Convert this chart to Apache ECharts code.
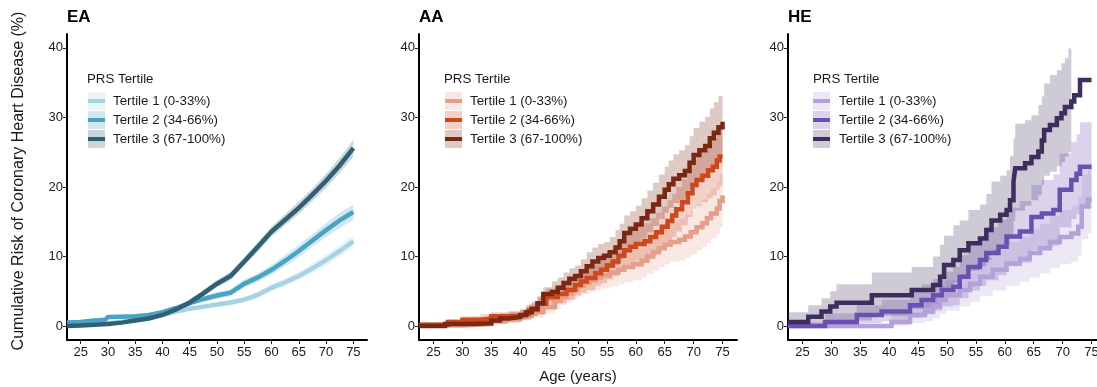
<!DOCTYPE html>
<html>
<head>
<meta charset="utf-8">
<script src="https://cdn.jsdelivr.net/npm/echarts@6/dist/echarts.min.js"></script>
<style>html,body{margin:0;padding:0;background:#fff}#c{width:1097px;height:387px}</style>
</head>
<body>
<div id="c"></div>
<script>
// ---------- DATA ----------
const panelTitles = ['EA', 'AA', 'HE'];
const tertileLabels = ['Tertile 1 (0-33%)', 'Tertile 2 (34-66%)', 'Tertile 3 (67-100%)'];
const xTicks = [25, 30, 35, 40, 45, 50, 55, 60, 65, 70, 75];
const yTicks = [0, 10, 20, 30, 40];
const yTitle = 'Cumulative Risk of Coronary Heart Disease (%)';
const xTitle = 'Age (years)';

// rows: [age, estimate, lower CI, upper CI]
const EA_T1 = [[22.5,0.3,0.1,0.5],[25,0.3,0.1,0.5],[27.5,0.35,0.15,0.55],[30,0.4,0.2,0.6],[32.5,0.6,0.4,0.8],[35,0.9,0.7,1.1],[37.5,1.2,1.0,1.4],[40,1.6,1.4,1.8],[42.5,2.1,1.8,2.4],[45,2.5,2.2,2.8],[47.5,2.8,2.5,3.1],[50,3.1,2.7,3.5],[52.5,3.4,3.0,3.8],[55,3.8,3.4,4.2],[57.5,4.5,4.0,5.0],[60,5.5,5.0,6.0],[62.5,6.3,5.7,6.9],[65,7.2,6.6,7.8],[67.5,8.3,7.6,9.0],[70,9.5,8.7,10.3],[72.5,10.8,9.9,11.7],[75,12.2,11.3,13.1]];
const EA_T2 = [[22.5,0.5,0.2,0.8],[25,0.6,0.3,0.9],[27.5,0.8,0.5,1.1],[29.5,0.9,0.6,1.2],[30,1.3,1.0,1.6],[32.5,1.35,1.05,1.65],[35,1.4,1.1,1.7],[37.5,1.6,1.3,1.9],[40,2.0,1.7,2.3],[42.5,2.6,2.3,2.9],[45,3.3,2.9,3.7],[47.5,3.9,3.5,4.3],[50,4.4,3.9,4.9],[52.5,4.8,4.3,5.3],[55,6.1,5.5,6.7],[57.5,7.0,6.4,7.6],[60,8.1,7.4,8.8],[62.5,9.4,8.6,10.2],[65,10.8,9.9,11.7],[67.5,12.3,11.4,13.2],[70,13.8,12.8,14.8],[72.5,15.2,14.1,16.3],[75,16.4,15.3,17.5]];
const EA_T3 = [[22.5,0.0,0.0,0.3],[25,0.1,0.0,0.4],[27.5,0.2,0.0,0.5],[30,0.3,0.1,0.6],[32.5,0.5,0.3,0.8],[35,0.8,0.6,1.1],[37.5,1.1,0.9,1.4],[40,1.6,1.4,1.9],[42.5,2.4,2.1,2.7],[45,3.4,3.0,3.8],[47.5,4.7,4.3,5.2],[50,6.1,5.6,6.6],[52.5,7.2,6.6,7.8],[55,9.3,8.7,9.9],[57.5,11.4,10.7,12.1],[60,13.6,12.9,14.3],[62.5,15.3,14.5,16.1],[65,17.0,16.1,17.9],[67.5,18.9,18.0,19.8],[70,20.9,19.9,21.9],[72.5,23.1,22.0,24.2],[75,25.6,24.4,26.8]];

const AA_T1 = [[22.5,0.1,0,0.4],[30,0.3,0,0.7],[35,0.7,0.2,1.2],[37.5,1.0,0.4,1.6],[40,1.5,0.8,2.2],[42,2.0,1.2,2.8],[44,2.7,1.8,3.6],[46,3.6,2.5,4.7],[47,4.2,3.0,5.4],[48,4.7,3.4,6.0],[49,5.3,3.9,6.7],[50,5.8,4.3,7.3],[51,6.2,4.6,7.8],[52,6.6,4.9,8.3],[53,7.0,5.2,8.8],[54,7.3,5.4,9.2],[55.5,7.7,5.7,9.7],[57,8.1,6.0,10.2],[58,8.5,6.3,10.7],[59.5,8.9,6.6,11.2],[61,9.4,7.0,11.8],[62,10.0,7.5,12.5],[63,10.6,8.0,13.2],[64,11.2,8.5,13.9],[65,11.7,8.9,14.5],[66,12.1,9.2,15.0],[67.5,12.4,9.4,15.4],[68.5,12.9,9.8,16.0],[69.5,13.5,10.3,16.7],[70.5,14.2,10.9,17.5],[71.5,14.8,11.4,18.2],[72.3,15.5,12.0,19.0],[73,16.2,12.6,19.8],[74,16.9,13.2,20.6],[74.5,18.0,14.2,21.8],[75,18.8,14.9,22.7]];
const AA_T2 = [[22.5,0.2,0,0.6],[27.5,0.6,0.2,1.0],[30,0.9,0.4,1.4],[33,1.1,0.5,1.7],[35,1.4,0.8,2.0],[38,1.5,0.8,2.2],[40,1.7,1.0,2.5],[41.5,2.3,1.4,3.2],[43,3.2,2.2,4.2],[44.5,4.2,3.0,5.4],[46.5,4.6,3.3,5.9],[48,5.2,3.8,6.6],[49.5,5.9,4.4,7.4],[50.5,6.4,4.8,8.0],[51.5,6.9,5.2,8.6],[53,7.6,5.8,9.4],[54,8.1,6.2,10.0],[55,8.7,6.7,10.7],[56,9.3,7.2,11.4],[57,10.1,7.9,12.3],[58,10.9,8.6,13.2],[59,11.4,9.0,13.8],[60,11.8,9.3,14.3],[61.5,12.2,9.6,14.8],[62.5,12.8,10.1,15.5],[63.5,13.5,10.7,16.3],[64.5,14.3,11.4,17.2],[65.5,15.1,12.1,18.1],[66.3,15.9,12.8,19.0],[67,16.8,13.6,20.0],[68,17.8,14.5,21.1],[69,19.1,15.7,22.5],[69.8,20.3,16.8,23.8],[70.5,21.0,17.3,24.7],[71.5,21.6,17.8,25.4],[72.5,22.4,18.4,26.4],[73.3,22.9,18.8,27.0],[74,23.8,19.6,28.0],[74.5,24.4,20.1,28.7],[75,24.4,20.1,28.7]];
const AA_T3 = [[22.5,0,0,0.4],[27,0.3,0,0.7],[31,0.4,0,0.8],[35,0.8,0.4,1.2],[36.5,1.1,0.4,1.8],[38,1.3,0.6,2.0],[40,1.6,0.9,2.3],[41,2.0,1.0,3.0],[42,2.5,1.5,3.5],[43,3.3,2.3,4.3],[44,4.6,3.6,5.6],[45.5,4.9,3.4,6.4],[46.5,5.5,4.0,7.0],[47.5,6.2,4.7,7.7],[48.5,6.8,5.3,8.3],[49.5,7.2,5.7,8.7],[50.5,7.9,6.2,9.6],[51.5,8.6,6.6,10.6],[52.5,9.3,7.3,11.3],[53.5,9.8,7.8,11.8],[54.5,10.1,8.1,12.1],[55.5,10.6,8.4,12.8],[56.5,11.3,8.8,13.8],[57.2,12.2,9.7,14.7],[58,13.4,10.9,15.9],[59,14.0,11.5,16.5],[60,14.6,11.9,17.3],[61,15.5,12.6,18.4],[62,16.5,13.5,19.5],[63,17.5,14.4,20.6],[64,18.6,15.4,21.8],[65,19.6,16.3,22.9],[65.7,20.4,17.0,23.8],[66.5,21.2,17.7,24.7],[67.5,21.7,18.1,25.3],[68.5,22.3,18.6,26.0],[69.3,23.5,19.7,27.3],[70,24.6,20.7,28.5],[71,25.3,21.2,29.4],[72,25.9,21.7,30.1],[72.8,27.0,22.7,31.3],[73.5,27.8,23.4,32.2],[74.3,28.6,24.1,33.1],[75,29.4,24.9,33.9]];

const HE_T1 = [[22.5,0,0,0],[40.4,0.6,0,1.8],[43.6,1.6,0.4,3.0],[46.2,2.1,0.7,3.7],[47.6,2.8,1.1,4.6],[48.8,3.75,1.7,5.8],[49.8,4.45,2.2,6.6],[52.2,5.2,2.8,7.5],[54.0,6.1,3.5,8.6],[55.7,7.1,4.3,9.8],[57.9,8.1,5.1,11.0],[60.3,9.0,5.8,12.1],[62.6,9.7,6.4,12.9],[64.3,10.5,7.0,13.9],[66.1,11.2,7.6,14.7],[67.8,12.1,8.3,15.8],[69.5,12.8,8.9,16.7],[71.5,13.3,9.3,17.3],[72.7,14.3,10.1,18.6],[73.3,17.2,12.5,21.8],[74.4,18.2,13.4,23.0],[75,18.2,13.4,23.0]];
const HE_T2 = [[22.5,0,0,0.5],[28.9,0.6,0,1.8],[34.4,1.6,0.4,3.0],[38.7,2.1,0.7,3.8],[43.6,3.0,1.2,5.0],[45.6,3.75,1.7,6.0],[47.6,4.45,2.2,6.8],[49.1,5.2,2.8,7.8],[51.1,5.65,3.0,8.5],[52.2,7.1,4.0,10.2],[53.7,8.5,5.1,11.8],[55.7,9.5,5.8,13.0],[56.8,10.5,6.6,14.2],[58.9,11.4,7.3,15.3],[60.3,12.9,8.6,17.0],[62.6,13.6,9.1,18.0],[64.6,15.7,10.9,20.3],[66.4,16.2,11.3,21.0],[68.4,16.7,11.6,21.8],[69.5,19.6,14.2,24.8],[71.5,21.0,15.4,26.5],[72.4,21.9,16.1,27.6],[73.0,22.9,16.9,29.3],[75,22.9,16.9,29.3]];
const HE_T3 = [[22.5,0.6,0,2.0],[26,1.35,0,3.0],[28.3,2.1,0.3,4.0],[29.8,2.8,0.5,5.0],[30.9,3.35,0.8,6.0],[37,4.45,1.5,7.7],[43.9,5.2,2.5,8.5],[47.6,5.9,3.0,10.0],[48.8,7.1,4.0,11.7],[49.5,8.8,5.5,13.0],[51.1,9.5,6.2,14.5],[52.2,10.9,7.2,15.2],[53.7,11.9,8.0,16.7],[55.7,12.6,8.6,17.5],[56.8,13.8,9.5,19.0],[57.7,15.2,10.6,20.8],[59.2,16.0,11.3,21.6],[60.3,16.7,11.8,22.4],[60.9,18.1,12.9,24.5],[61.5,20.8,15.1,27.0],[61.8,22.7,16.6,29.1],[63.5,23.4,17.3,29.6],[64.6,24.3,18.1,30.3],[65.8,25.1,18.8,31.8],[66.4,26.7,20.3,33.0],[66.8,28.2,21.6,34.9],[67.8,28.9,22.2,36.1],[69.0,29.9,23.0,36.8],[69.8,30.6,23.6,37.8],[70.4,31.5,24.4,38.5],[71.0,31.5,25.0,39.9],[71.5,32.3,null,null],[72,33.2,null,null],[73.0,35.4,null,null],[75,35.4,null,null]];

const EA_colors = ['#a5d3e2', '#4aa3c4', '#2f6074'];
const AA_colors = ['#e59e8a', '#cd481f', '#7a2812'];
const HE_colors = ['#b3a1d9', '#6a50b0', '#3d2e5e'];

// ---------- LAYOUT / STYLE ----------
const FONT = '"Liberation Sans", Arial, Helvetica, sans-serif';
const CI_ALPHA = 0.25;
const grids = [
  {left: 67, top: 34, width: 300, height: 306},
  {left: 419, top: 34, width: 318, height: 306},
  {left: 788, top: 34, width: 318, height: 306}
];
const legendPos = [
  {title: 87, key: 88, text: 113},
  {title: 444, key: 445, text: 470},
  {title: 813, key: 813, text: 839}
];

function rgba(hex, a) {
  const n = parseInt(hex.slice(1), 16);
  return 'rgba(' + ((n >> 16) & 255) + ',' + ((n >> 8) & 255) + ',' + (n & 255) + ',' + a + ')';
}

function bandSeries(rows, color, step, gi) {
  return {
    type: 'custom', xAxisIndex: gi, yAxisIndex: gi, z: 1, silent: true,
    data: rows.map(r => [r[0], r[2], r[3]]),
    encode: {x: 0, y: [1, 2]},
    renderItem: function (params, api) {
      if (params.dataIndex !== 0) return null;
      const up = [], lo = [];
      for (let i = 0; i < rows.length; i++) {
        const r = rows[i];
        if (r[2] == null) break;
        const nx = rows[i + 1];
        up.push(api.coord([r[0], r[3]]));
        lo.push(api.coord([r[0], r[2]]));
        if (step && nx) {
          up.push(api.coord([nx[0], r[3]]));
          lo.push(api.coord([nx[0], r[2]]));
        }
      }
      return {type: 'polygon', shape: {points: up.concat(lo.reverse())}, style: {fill: rgba(color, CI_ALPHA)}};
    }
  };
}
function lineSeries(rows, color, step, gi) {
  return {
    type: 'line', xAxisIndex: gi, yAxisIndex: gi, z: 3, silent: true,
    step: step ? 'end' : false, showSymbol: false, symbol: 'none', symbolSize: 0,
    data: rows.map(r => [r[0], r[1]]),
    lineStyle: {color: color, width: 4.5, cap: 'butt', join: 'miter'}, itemStyle: {color: color}
  };
}

const groups = [
  {rows: [EA_T1, EA_T2, EA_T3], colors: EA_colors, step: false},
  {rows: [AA_T1, AA_T2, AA_T3], colors: AA_colors, step: true},
  {rows: [HE_T1, HE_T2, HE_T3], colors: HE_colors, step: true}
];

const series = [];
groups.forEach((g, gi) => {
  g.rows.forEach((r, k) => series.push(bandSeries(r, g.colors[k], g.step, gi)));
  g.rows.forEach((r, k) => series.push(lineSeries(r, g.colors[k], g.step, gi)));
});

const axisText = {color: '#1a1a1a', fontSize: 13, fontFamily: FONT};
const xAxes = grids.map((g, i) => ({
  type: 'value', gridIndex: i, min: 22.5, max: 77.5,
  axisLine: {show: true, onZero: false, lineStyle: {color: '#000', width: 2}},
  axisTick: {show: true, length: 4, customValues: xTicks, lineStyle: {color: '#222', width: 1}},
  axisLabel: Object.assign({customValues: xTicks, margin: 6}, axisText),
  splitLine: {show: false},
  name: i === 1 ? xTitle : '', nameLocation: 'middle', nameGap: 29,
  nameTextStyle: {fontSize: 15, color: '#1a1a1a', fontFamily: FONT}
}));
const yAxes = grids.map((g, i) => ({
  type: 'value', gridIndex: i, min: -2, max: 42,
  axisLine: {show: true, onZero: false, lineStyle: {color: '#000', width: 2}},
  axisTick: {show: true, length: 4, customValues: yTicks, lineStyle: {color: '#222', width: 1}},
  axisLabel: Object.assign({customValues: yTicks, margin: 4}, axisText),
  splitLine: {show: false}
}));

const graphic = [{
  type: 'text', x: 19, y: 181, rotation: Math.PI / 2, silent: true,
  style: {text: yTitle, fill: '#1a1a1a', font: '16px ' + FONT, align: 'center', verticalAlign: 'middle'}
}];
groups.forEach((g, gi) => {
  const p = legendPos[gi];
  graphic.push({type: 'text', x: p.title, y: 79, silent: true,
    style: {text: 'PRS Tertile', fill: '#1a1a1a', font: '13.3px ' + FONT, verticalAlign: 'middle', align: 'left'}});
  for (let k = 0; k < 3; k++) {
    const cy = 101 + k * 19;
    graphic.push({type: 'rect', silent: true, shape: {x: p.key, y: cy - 9, width: 17, height: 18}, style: {fill: rgba(g.colors[k], CI_ALPHA)}});
    graphic.push({type: 'rect', silent: true, shape: {x: p.key, y: cy - 2, width: 17, height: 4}, style: {fill: g.colors[k]}});
    graphic.push({type: 'text', x: p.text, y: cy, silent: true,
      style: {text: tertileLabels[k], fill: '#1a1a1a', font: '13.3px ' + FONT, verticalAlign: 'middle', align: 'left'}});
  }
});

const chart = echarts.init(document.getElementById('c'), null, {renderer: 'canvas'});
chart.setOption({
  animation: false,
  backgroundColor: '#fff',
  textStyle: {fontFamily: FONT},
  title: panelTitles.map((t, i) => ({text: t, left: grids[i].left, top: 9, padding: 0,
    textStyle: {fontSize: 17, fontWeight: 'bold', color: '#000', fontFamily: FONT}})),
  grid: grids.map(g => Object.assign({containLabel: false, outerBoundsMode: 'none'}, g)),
  xAxis: xAxes,
  yAxis: yAxes,
  series: series,
  graphic: graphic
});
</script>
</body>
</html>
